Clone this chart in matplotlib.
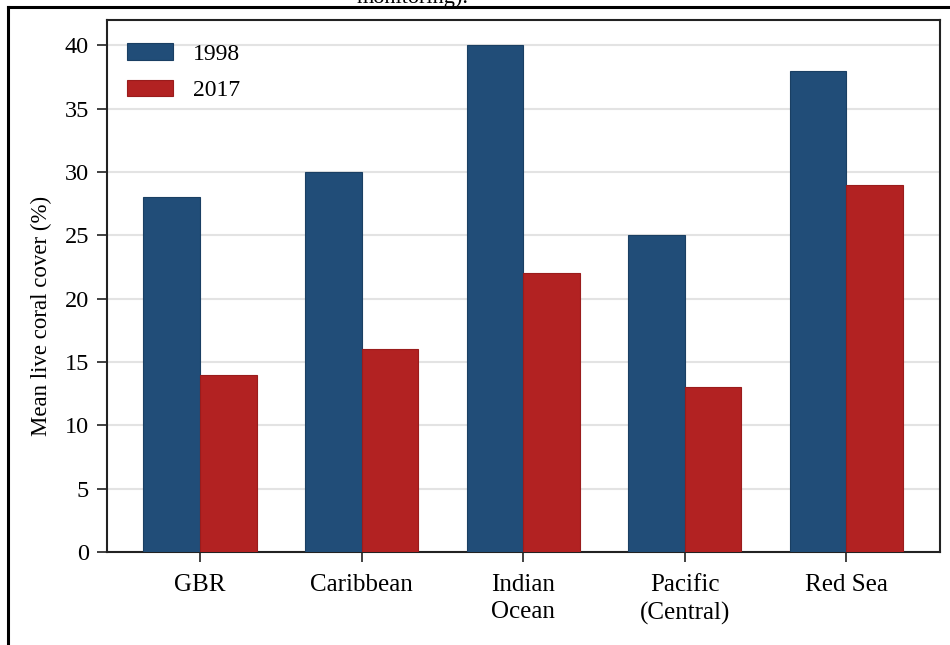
import matplotlib
matplotlib.use("Agg")
import matplotlib.pyplot as plt
from matplotlib.lines import Line2D
import numpy as np

regions = ["GBR", "Caribbean", "Indian\nOcean", "Pacific\n(Central)", "Red Sea"]
cover_1998 = [28, 30, 40, 25, 38]
cover_2017 = [14, 16, 22, 13, 29]
y_ticks = [0, 5, 10, 15, 20, 25, 30, 35, 40]

blue = "#214d78"
red = "#b22222"

plt.rcParams["font.family"] = ["Liberation Serif", "DejaVu Serif"]

fig = plt.figure(figsize=(9.5, 6.45), dpi=100)
ax = fig.add_axes([0.1126, 0.1442, 0.8769, 0.8248])

x = np.arange(len(regions))
w = 0.35
ax.bar(x - w / 2, cover_1998, w, color=blue, edgecolor="#1a3f63", linewidth=0.8,
       label="1998", zorder=3)
ax.bar(x + w / 2, cover_2017, w, color=red, edgecolor="#9a1c1c", linewidth=0.8,
       label="2017", zorder=3)

ax.set_xlim(-0.576, 4.58)
ax.set_ylim(0, 42)
ax.set_yticks(y_ticks)
ax.set_xticks(x)
ax.set_xticklabels(regions, fontsize=18, linespacing=1.3)
ax.tick_params(axis="y", labelsize=17.5, length=7, width=1.3, color="#333333", pad=6)
ax.tick_params(axis="x", length=7, width=1.3, color="#333333", pad=9)
ax.set_ylabel("Mean live coral cover (%)", fontsize=16.5)
ax.yaxis.set_label_coords(-0.066, 0.4436)

ax.yaxis.grid(True, color="#e3e3e3", linewidth=1.5, zorder=0)
ax.set_axisbelow(True)
for s in ax.spines.values():
    s.set_linewidth(1.5)
    s.set_color("#222222")

ax.legend(loc="upper left", frameon=False, fontsize=17, handlelength=1.95,
          handleheight=0.72, handletextpad=0.85, labelspacing=0.62,
          borderaxespad=0.45, bbox_to_anchor=(0.0, 0.994))

# page frame around the figure
fig.add_artist(Line2D([8 / 950, 1.0], [1 - 6.5 / 645, 1 - 6.5 / 645],
                      transform=fig.transFigure, color="black", linewidth=2.2))
fig.add_artist(Line2D([8 / 950, 8 / 950], [0, 1 - 6.5 / 645],
                      transform=fig.transFigure, color="black", linewidth=2.2))

fig.text(357 / 950, 1 - 2.5 / 645, "monitoring).", fontsize=16,
         ha="left", va="baseline")

fig.savefig("out.png", dpi=100)
